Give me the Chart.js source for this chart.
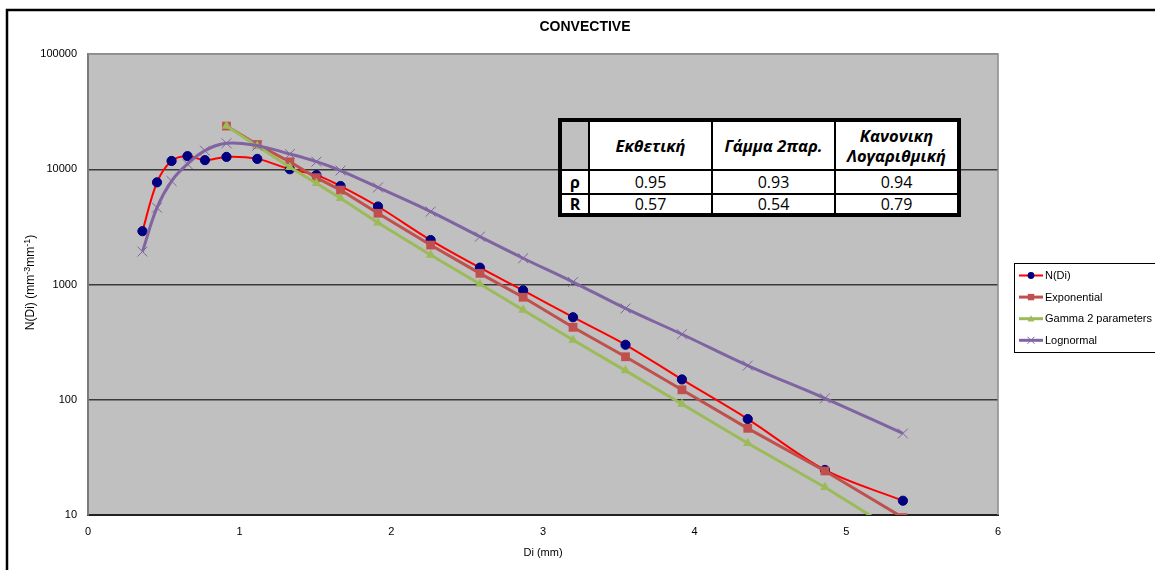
<!DOCTYPE html>
<html>
<head>
<meta charset="utf-8">
<script src="https://cdn.jsdelivr.net/npm/chart.js@4.4.1/dist/chart.umd.min.js"></script>
<style>
  html, body { margin: 0; padding: 0; background: #fff; }
  #wrap { position: relative; width: 1155px; height: 570px; overflow: hidden; }
  #chart { position: absolute; left: 0; top: 0; }
  #stats {
    position: absolute; left: 558px; top: 118px; box-sizing: border-box;
    width: 403px; height: 99px; border: 4px solid #000; background: #000;
    display: grid; gap: 2px;
    grid-template-columns: 26px 121px 121px 121px;
    grid-template-rows: 47px 22px 18px;
    font-family: "Open Sans", "Noto Sans", sans-serif; color: #000;
  }
  #stats .c { background: #fff; display: flex; align-items: center; justify-content: center; text-align: center; overflow: hidden; }
  #stats .corner { background: #c0c0c0; }
  #stats .h { font-weight: bold; font-style: italic; font-size: 16.5px; line-height: 20px; }
  #stats .k { font-weight: bold; font-size: 16px; line-height: 18px; }
  #stats .v { font-size: 16px; line-height: 18px; }
</style>
</head>
<body>
<div id="wrap">
  <canvas id="chart" width="1155" height="570"></canvas>
  <div id="stats"></div>
</div>
<script>
// Drop diameter classes (mm)
const diameters = [0.359, 0.455, 0.551, 0.656, 0.771, 0.913, 1.116, 1.331, 1.506, 1.665,
                   1.912, 2.259, 2.584, 2.869, 3.198, 3.544, 3.916, 4.350, 4.859, 5.373];
// Measured drop size distribution N(Di)
const observed = [2900, 7700, 11800, 13000, 12000, 12800, 12300, 10000, 8900, 7150,
                  4750, 2430, 1400, 890, 520, 300, 150, 68, 24.6, 13.3];
// Fitted distributions; exponential and gamma start at the sixth class
const fitStart = 5;
const exponentialFit = [23700, 16400, 11600, 8450, 6600, 4150, 2200, 1250, 775, 425,
                        236, 122, 56.5, 24.1, 9.5];
const gammaFit = [23700, 15900, 10400, 7550, 5600, 3440, 1800, 1010, 600, 330,
                  179, 92, 42, 17.4, 6.6];
const lognormalFit = [1930, 4640, 7900, 11100, 14500, 16800, 16000, 13560, 11630, 9750,
                      6950, 4290, 2600, 1690, 1050, 620, 370, 198, 103, 51];

const seriesNames = ['N(Di)', 'Exponential', 'Gamma 2 parameters', 'Lognormal'];
const yTickValues = [10, 100, 1000, 10000, 100000];
const xTickValues = [0, 1, 2, 3, 4, 5, 6];

// Y-axis title pieces: [text, superscript?]
const yTitleParts = [['N(Di) (mm', false], ['-3', true], ['mm', false], ['-1', true], [')', false]];

// Goodness-of-fit table
const tableHeaders = ['Εκθετική', 'Γάμμα 2παρ.', 'Κανονικη\nΛογαριθμική'];
const rowKeys = ['ρ', 'R'];
const rhoValues = ['0.95', '0.93', '0.94'];
const rValues = ['0.57', '0.54', '0.79'];

function pairs(xs, ys) { return ys.map((y, i) => ({ x: xs[i], y })); }

const FONT = '"Liberation Sans", Arial, sans-serif';

// Build the statistics table
(function buildTable() {
  const el = document.getElementById('stats');
  const add = (cls, text) => {
    const d = document.createElement('div');
    d.className = 'c ' + cls;
    text.split('\n').forEach((t, i) => {
      if (i) d.appendChild(document.createElement('br'));
      d.appendChild(document.createTextNode(t));
    });
    el.appendChild(d);
    return d;
  };
  add('corner', '');
  tableHeaders.forEach(h => add('h', h));
  [rhoValues, rValues].forEach((row, r) => {
    add('k', rowKeys[r]);
    row.forEach(v => add('v', v));
  });
})();

function drawMarker(ctx, style, x, y, r, fill, stroke, lw) {
  ctx.save();
  ctx.fillStyle = fill; ctx.strokeStyle = stroke; ctx.lineWidth = lw;
  ctx.beginPath();
  if (style === 'circle') {
    ctx.arc(x, y, r, 0, Math.PI * 2); ctx.fill();
  } else if (style === 'rect') {
    ctx.rect(x - r, y - r, 2 * r, 2 * r); ctx.fill();
  } else if (style === 'triangle') {
    ctx.moveTo(x, y - r); ctx.lineTo(x + r, y + r * 0.8); ctx.lineTo(x - r, y + r * 0.8); ctx.closePath(); ctx.fill();
  } else if (style === 'crossRot') {
    ctx.moveTo(x - r, y - r); ctx.lineTo(x + r, y + r);
    ctx.moveTo(x + r, y - r); ctx.lineTo(x - r, y + r); ctx.stroke();
  }
  ctx.restore();
}

// Outer frame, plot background and plot border
const framePlugin = {
  id: 'frame',
  beforeDraw(chart) {
    const { ctx, chartArea: a } = chart;
    ctx.save();
    ctx.fillStyle = '#fff';
    ctx.fillRect(0, 0, chart.width, chart.height);
    ctx.fillStyle = '#c0c0c0';
    ctx.fillRect(a.left, a.top, a.right - a.left, a.bottom - a.top);
    ctx.strokeStyle = '#000';
    ctx.lineWidth = 2.5;
    ctx.beginPath();
    ctx.moveTo(7, 572); ctx.lineTo(7, 10); ctx.lineTo(1160, 10);
    ctx.stroke();
    ctx.restore();
  },
  beforeDatasetsDraw(chart) {
    const { ctx, chartArea: a } = chart;
    ctx.save();
    ctx.strokeStyle = '#8c8c8c';
    ctx.lineWidth = 1.5;
    ctx.beginPath();
    ctx.moveTo(a.left, a.top); ctx.lineTo(a.right, a.top); ctx.lineTo(a.right, a.bottom);
    ctx.stroke();
    ctx.restore();
  }
};

// Rotated y-axis title with raised exponents
const yTitlePlugin = {
  id: 'yTitle',
  afterDraw(chart) {
    const { ctx, chartArea: a } = chart;
    const base = '12px ' + FONT, sup = '9px ' + FONT;
    ctx.save();
    let total = 0;
    yTitleParts.forEach(([t, s]) => { ctx.font = s ? sup : base; total += ctx.measureText(t).width; });
    ctx.translate(31, (a.top + a.bottom) / 2 - 2);
    ctx.rotate(-Math.PI / 2);
    ctx.fillStyle = '#000';
    ctx.textBaseline = 'middle';
    ctx.textAlign = 'left';
    let x = -total / 2;
    yTitleParts.forEach(([t, s]) => {
      ctx.font = s ? sup : base;
      ctx.fillText(t, x, s ? -3.5 : 0);
      x += ctx.measureText(t).width;
    });
    ctx.restore();
  }
};

// Boxed legend with line-and-marker samples
const legendBox = { left: 1014, top: 263, right: 1162, bottom: 352, firstY: 275.5, step: 21.6 };
const legendPlugin = {
  id: 'boxLegend',
  afterDraw(chart) {
    const { ctx } = chart;
    ctx.save();
    ctx.strokeStyle = '#000';
    ctx.lineWidth = 1;
    ctx.strokeRect(legendBox.left + 0.5, legendBox.top + 0.5,
                   legendBox.right - legendBox.left, legendBox.bottom - legendBox.top);
    chart.data.datasets.forEach((ds, i) => {
      const y = legendBox.firstY + i * legendBox.step;
      ctx.strokeStyle = ds.borderColor;
      ctx.lineWidth = ds.borderWidth;
      ctx.beginPath();
      ctx.moveTo(1019, y); ctx.lineTo(1043, y);
      ctx.stroke();
      drawMarker(ctx, ds.pointStyle, 1031, y, ds.legendMarker,
                 ds.pointBackgroundColor, ds.pointBorderColor, 1);
      ctx.fillStyle = '#000';
      ctx.font = '11px ' + FONT;
      ctx.textBaseline = 'middle';
      ctx.textAlign = 'left';
      ctx.fillText(ds.label, 1045, y + 0.5);
    });
    ctx.restore();
  }
};

const datasets = [
  {
    label: seriesNames[0],
    data: pairs(diameters, observed),
    borderColor: '#ff0000', borderWidth: 2, tension: 0.35,
    pointStyle: 'circle', pointRadius: 4.6, pointBorderWidth: 1,
    pointBackgroundColor: '#000080', pointBorderColor: '#000080',
    legendMarker: 3.4, order: 3
  },
  {
    label: seriesNames[1],
    data: pairs(diameters.slice(fitStart), exponentialFit),
    borderColor: '#c0504d', borderWidth: 3, tension: 0,
    pointStyle: 'rect', pointRadius: 6.2, pointBorderWidth: 0,
    pointBackgroundColor: '#c0504d', pointBorderColor: '#c0504d',
    legendMarker: 3.2, order: 2, clip: 0
  },
  {
    label: seriesNames[2],
    data: pairs(diameters.slice(fitStart), gammaFit),
    borderColor: '#9bbb59', borderWidth: 3, tension: 0,
    pointStyle: 'triangle', pointRadius: 5.5, pointBorderWidth: 0,
    pointBackgroundColor: '#9bbb59', pointBorderColor: '#9bbb59',
    legendMarker: 3.4, order: 1, clip: 0
  },
  {
    label: seriesNames[3],
    data: pairs(diameters, lognormalFit),
    borderColor: '#8064a2', borderWidth: 3, tension: 0.4,
    pointStyle: 'crossRot', pointRadius: 7, pointBorderWidth: 1,
    pointBackgroundColor: '#8064a2', pointBorderColor: '#8064a2',
    legendMarker: 3.5, order: 0
  }
];

new Chart(document.getElementById('chart'), {
  type: 'line',
  data: { datasets },
  plugins: [framePlugin, yTitlePlugin, legendPlugin],
  options: {
    responsive: false,
    animation: false,
    events: [],
    layout: { padding: { left: 15, top: 0, right: 0, bottom: 0 } },
    plugins: {
      legend: { display: false },
      tooltip: { enabled: false },
      title: {
        display: true, text: 'CONVECTIVE', color: '#000',
        font: { family: FONT, size: 14, weight: 'bold', lineHeight: 1.2 },
        padding: { top: 19, bottom: 18.2 }
      }
    },
    scales: {
      x: {
        type: 'linear', min: 0, max: 6,
        afterBuildTicks: s => { s.ticks = xTickValues.map(v => ({ value: v })); },
        afterFit: s => { s.height = 55; },
        grid: { display: false, drawTicks: false },
        border: { display: true, color: '#222', width: 2 },
        ticks: { color: '#000', padding: 10, font: { family: FONT, size: 11 }, callback: v => String(v) },
        title: {
          display: true, text: 'Di (mm)', color: '#000',
          font: { family: FONT, size: 11, lineHeight: 1.2 },
          padding: { top: 0, bottom: 10.4 }
        }
      },
      y: {
        type: 'logarithmic', min: 10, max: 100000,
        afterBuildTicks: s => { s.ticks = yTickValues.map(v => ({ value: v })); },
        afterFit: s => { s.width = 73; },
        grid: {
          drawTicks: false,
          color: c => (c.tick && c.tick.value === 100000) ? '#8c8c8c' : '#3a3a3a',
          lineWidth: 1.5
        },
        border: { display: true, color: '#7a7a7a', width: 2 },
        ticks: { color: '#000', padding: 11, font: { family: FONT, size: 11 }, callback: v => String(v) }
      },
      legendSpace: {
        type: 'linear', position: 'right', display: true,
        afterFit: s => { s.width = 157; },
        grid: { display: false, drawTicks: false },
        border: { display: false },
        ticks: { display: false }
      }
    }
  }
});
</script>
</body>
</html>
